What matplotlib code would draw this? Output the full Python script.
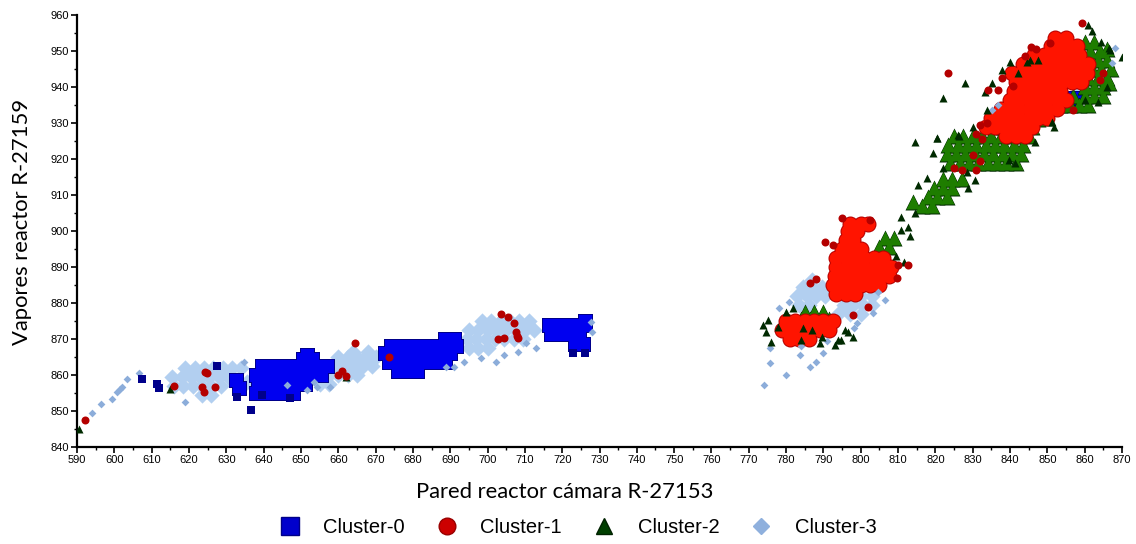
import matplotlib
matplotlib.use("Agg")
import matplotlib.pyplot as plt
from matplotlib.lines import Line2D
import numpy as np

# ---------------- data (x = Pared reactor, y = Vapores reactor) ----------------
cluster_names = ["Cluster-0", "Cluster-1", "Cluster-2", "Cluster-3"]
x_ticks = [590, 600, 610, 620, 630, 640, 650, 660, 670, 680, 690, 700, 710, 720, 730,
           740, 750, 760, 770, 780, 790, 800, 810, 820, 830, 840, 850, 860, 870]
y_ticks = [840, 850, 860, 870, 880, 890, 900, 910, 920, 930, 940, 950, 960]

# dense (overlapping) observations
c3_dense = [
    (623.5, 854.5), (626, 854.5),
    (616, 857), (618.5, 857), (621, 857), (623.5, 857), (626, 857), (628.5, 857),
    (615.5, 859.5), (618, 859.5), (620.5, 859.5), (623, 859.5), (625.5, 859.5), (628, 859.5), (630.5, 859.5),
    (619, 862), (621.5, 862), (624, 862), (626.5, 862), (629, 862), (631.5, 862), (634, 862), (635.5, 858),
    (655, 857.5), (657.5, 857.5),
    (657.5, 860), (660, 860), (662.5, 860), (665, 860),
    (659, 862.5), (661.5, 862.5), (664, 862.5), (666.5, 862.5), (669, 862.5),
    (660, 865), (662.5, 865), (665, 865), (667.5, 865), (670, 865),
    (664, 866.5), (668, 866.5),
    (695, 867.5), (697.5, 867.5), (700, 867.5),
    (694.5, 870), (697, 870), (699.5, 870), (702, 870), (704.5, 870), (707, 870), (709.5, 870),
    (695, 872.5), (697.5, 872.5), (700, 872.5), (702.5, 872.5), (705, 872.5), (707.5, 872.5), (710, 872.5), (712.5, 872.5),
    (698.5, 875), (701, 875), (703.5, 875), (706, 875), (708.5, 875), (711, 875),
    (794, 877), (797, 877), (800, 877),
    (783.5, 879.5), (786, 879.5), (795.5, 879.5), (798, 879.5), (800.5, 879.5), (803, 879.5),
    (783, 882), (785.5, 882), (788, 882), (790.5, 882), (800, 882), (803, 882),
    (784.5, 884.5), (787, 884.5), (789.5, 884.5), (787, 886.5),
    (858.5, 939.5), (860, 938.5),
]
c0_dense = [
    (638, 855), (640.5, 855), (643, 855), (645.5, 855), (648, 855),
    (638.5, 857.5), (641, 857.5), (643.5, 857.5), (646, 857.5), (648.5, 857.5), (651, 857.5),
    (638, 860), (640.5, 860), (643, 860), (645.5, 860), (648, 860), (650.5, 860), (653, 860), (655.5, 860),
    (639.5, 862.5), (642, 862.5), (644.5, 862.5), (647, 862.5), (649.5, 862.5), (652, 862.5), (654.5, 862.5), (657, 862.5),
    (650.5, 864.5), (653, 864.5), (651.5, 865.5),
    (632.5, 858.5), (633.5, 856.5),
    (676, 861), (678.5, 861), (681, 861),
    (673.5, 863.5), (676, 863.5), (678.5, 863.5), (681, 863.5), (683.5, 863.5), (686, 863.5), (688.5, 863.5),
    (672.5, 866), (675, 866), (677.5, 866), (680, 866), (682.5, 866), (685, 866), (687.5, 866), (690, 866),
    (674, 868), (676.5, 868), (679, 868), (681.5, 868), (684, 868), (686.5, 868), (689, 868), (691.5, 868),
    (688.5, 870), (691, 870),
    (717, 871.5), (719.5, 871.5), (722, 871.5), (724.5, 871.5),
    (716.5, 874), (719, 874), (721.5, 874), (724, 874), (726, 874),
    (723.5, 868.5), (725.5, 868.5), (726, 875),
    (857.5, 937),
]
c2_dense = [
    (784, 875.5), (786.5, 875.5), (789, 875.5), (791.5, 875.5), (785, 877.5), (787.5, 877.5), (790, 877.5),
    (805, 895.5), (807.5, 895.5), (806.5, 898), (809, 898),
    (814, 908), (816.5, 907), (819, 907), (818, 909.5), (820.5, 909.5), (823, 909.5),
    (819.5, 912), (822, 912), (824.5, 912), (822, 914.5), (824.5, 914.5), (827, 914.5),
    (824, 919), (826.5, 919), (829, 919), (831.5, 919), (834, 919), (836.5, 919), (839, 919), (841.5, 919),
    (823, 921.5), (825.5, 921.5), (828, 921.5), (830.5, 921.5), (833, 921.5), (835.5, 921.5), (838, 921.5), (840.5, 921.5), (843, 921.5),
    (823.5, 924), (826, 924), (828.5, 924), (831, 924), (833.5, 924), (836, 924), (838.5, 924), (841, 924), (843.5, 924),
    (825, 926.5), (827.5, 926.5), (830, 926.5), (832.5, 926.5), (835, 926.5), (837.5, 926.5), (840, 926.5), (842.5, 926.5), (845, 926.5),
    (836, 929), (838.5, 929), (841, 929), (843.5, 929), (846, 929),
    (840, 931), (842.5, 931), (845, 931), (847.5, 931), (850, 931.5),
    (853.5, 935), (856, 935), (858.5, 935), (861, 935),
    (857, 937.5), (860, 937.5), (862.5, 937.5), (865, 937.5),
    (860, 940), (862.5, 940), (865, 940), (866.5, 941),
    (861, 942.5), (863.5, 942.5), (866, 942.5),
    (862, 945), (864.5, 945), (867, 945),
    (861, 947.5), (863.5, 947.5), (866, 947.5),
    (859, 950), (861.5, 950), (864, 950), (866, 950.5),
    (860, 952.5), (862.5, 952.5),
]
c1_dense = [
    (781, 870), (783.5, 870), (786, 870),
    (779, 872.5), (781.5, 872.5), (784, 872.5), (786.5, 872.5), (789, 872.5), (791.5, 872.5),
    (780, 875), (782.5, 875), (785, 875), (787.5, 875), (790, 875), (792.5, 875),
    (793.5, 882.5), (796, 882.5), (798.5, 882.5),
    (792.5, 885), (795, 885), (797.5, 885), (800, 885), (802.5, 885), (805, 885),
    (793, 887.5), (795.5, 887.5), (798, 887.5), (800.5, 887.5), (803, 887.5), (805.5, 887.5), (807.5, 887.5),
    (793.5, 890), (796, 890), (798.5, 890), (801, 890), (803.5, 890), (806, 890), (808, 890),
    (793.5, 892.5), (796, 892.5), (798.5, 892.5), (801, 892.5), (803.5, 892.5), (806, 892.5),
    (795, 895), (797.5, 895), (800, 895),
    (796, 897.5), (798, 897.5), (796.5, 900), (799, 900), (797, 902), (800, 902), (802, 902),
    (839, 926.5), (841.5, 926.5), (844, 926.5),
    (833.5, 929), (836, 929), (838.5, 929), (841, 929), (843.5, 929), (846, 929),
    (835, 931.5), (837.5, 931.5), (840, 931.5), (842.5, 931.5), (845, 931.5), (847.5, 931.5), (850, 931.5),
    (837.5, 934), (840, 934), (842.5, 934), (845, 934), (847.5, 934), (850, 934), (852.5, 934),
    (840, 936.5), (842.5, 936.5), (845, 936.5), (847.5, 936.5), (850, 936.5), (852.5, 936.5), (855, 936.5),
    (841, 939), (843.5, 939), (846, 939), (848.5, 939), (851, 939), (853.5, 939),
    (841.5, 941.5), (844, 941.5), (846.5, 941.5), (849, 941.5), (851.5, 941.5), (854, 941.5), (856.5, 941.5), (859, 941.5),
    (840.5, 944), (843, 944), (845.5, 944), (848, 944), (850.5, 944), (853, 944), (855.5, 944), (858, 944), (860.5, 944),
    (843.5, 946.5), (846, 946.5), (848.5, 946.5), (851, 946.5), (853.5, 946.5), (856, 946.5), (858.5, 946.5), (861, 946.5),
    (846.5, 949), (849, 949), (851.5, 949), (854, 949), (856, 949), (858.5, 949),
    (851, 951.5), (853.5, 951.5), (856, 951.5), (858, 951.5),
    (852, 953.5), (855, 953.5),
]

# isolated observations
c3_single = [
    (593.9, 849.4), (596.4, 851.9), (599.3, 853.4), (600.7, 855.4), (602, 856.8), (603.5, 858.9),
    (606.5, 860.5), (601.5, 856), (619, 852.6), (634.7, 863.7), (646.3, 857.2), (654.3, 856.8),
    (657.9, 856.8), (651.7, 855.8), (653.4, 858.1), (688.8, 862.2), (690.9, 862.2), (693.6, 863.6),
    (698.2, 864.7), (702.2, 863.6), (704.4, 865.6), (708.1, 866.4), (710.3, 868.9), (713, 867.5),
    (727.7, 874.7), (728, 872),
    (774.2, 857.2), (780.1, 860), (775.6, 863.2), (786.3, 862.3), (783.6, 865.6), (788.1, 863.7),
    (789.9, 866), (775.6, 867.4), (780.9, 880.4), (798.3, 873), (798.9, 874.4), (803.3, 877.1),
    (806.4, 880.8), (804.7, 883.1), (784, 868), (791, 869.5), (778, 878.5),
    (868.2, 950.7), (867.3, 946.6), (836.9, 935), (835.3, 933.6),
]
c0_single = [
    (607.5, 858.8), (611.5, 857.6), (612, 856.3), (627.5, 862.5), (636.5, 850.3), (633, 854),
    (726, 866), (723, 866), (647, 853.5), (639.7, 854.4),
]
c1_single = [
    (592.1, 847.5), (616, 857), (624.4, 860.9), (624.8, 860.5), (623.5, 856.7), (623.9, 855.4),
    (627, 856.7), (660, 860), (662, 859.6), (661, 861), (664.6, 868.9), (673.5, 865),
    (703.5, 877), (705.5, 876), (707, 874.5), (707.5, 872), (708, 870.8), (704.4, 870.3),
    (708.1, 870.3), (702.8, 870),
    (786.3, 885.5), (787.9, 886.7), (810, 890.6), (812.7, 890.6), (809.6, 886.9), (802, 879),
    (798, 876.7), (790.5, 897), (792.5, 896), (795, 903.5), (802.5, 903),
    (859.3, 957.7), (845.7, 951), (837.8, 942.4), (836.9, 939.2), (834.2, 939.2), (850.8, 952.1),
    (840.7, 940.3), (823.5, 944), (832, 929.4), (833.8, 929.9), (865, 943.8), (864.2, 942),
    (825, 917.5), (827, 917), (831, 917), (831, 927), (832.4, 925.5), (857, 933.5), (830, 921),
    (832, 919.5), (844, 948.5), (847, 950.5),
]
c2_single = [
    (590.6, 844.9), (615, 856), (662, 859.4),
    (773.8, 873.9), (775.1, 875.3), (774.7, 872), (776, 869.3), (777.8, 873.2), (780.1, 877.6),
    (781.9, 878.5), (795.7, 872.5), (796.6, 872), (793.9, 869.7), (794.8, 869.7), (798, 870.6),
    (784.1, 869.7), (789, 868.8), (793, 868.3), (784.5, 873), (787, 872.5), (789.5, 870.5),
    (809.5, 893), (811.5, 891.5),
    (814.5, 924.8), (820.3, 925.7), (826.1, 926.7), (819.4, 921.7), (830.2, 929), (822.1, 917.4),
    (815.4, 912.8), (817.7, 914.6), (828.4, 916.5), (830.6, 914.2), (828.8, 911.9), (810.9, 904),
    (812.7, 901.2), (810.9, 900.3), (813.2, 898.6), (814.5, 904.9),
    (861, 957.2), (870, 948.4), (866.9, 950.3), (840, 947), (837.8, 944.7), (827.8, 941),
    (835.1, 941), (833.3, 938.7), (833.8, 933.6), (826.2, 926.4), (845.4, 947.5), (847.6, 947.5),
    (846.7, 924.8), (851.2, 930.4), (851.7, 929), (863.7, 935.9), (866, 940.1), (860.1, 936.4),
    (822.1, 937), (820.3, 925.9), (866.4, 950.7), (841.4, 918.8), (839.6, 919.7),
    (844.5, 947), (842, 944), (862, 955.5), (864.5, 952.5),
]

# ---------------- styles ----------------
styles = {
    "Cluster-0": dict(marker="s", face="#0000f0", dark="#00008b", outline=True, dense=c0_dense, single=c0_single, sz=13, ss=8),
    "Cluster-1": dict(marker="o", face="#ff1400", dark="#b40000", outline=True, dense=c1_dense, single=c1_single, sz=14, ss=8),
    "Cluster-2": dict(marker="^", face="#1e7d00", dark="#002a00", outline=True, dense=c2_dense, single=c2_single, sz=14, ss=8),
    "Cluster-3": dict(marker="D", face="#b2cff0", dark="#8cadda", outline=False, dense=c3_dense, single=c3_single, sz=11.5, ss=5.5),
}
draw_order = ["Cluster-3", "Cluster-0", "Cluster-2", "Cluster-1"]

plt.rcParams['font.family'] = ['Liberation Sans', 'DejaVu Sans']
fig = plt.figure(figsize=(11.36, 5.44), dpi=100)
ax = fig.add_axes([77 / 1136, 1 - 447 / 544, (1122 - 77) / 1136, (447 - 15) / 544])

z = 2
for name in draw_order:
    st = styles[name]
    d = np.array(st["dense"])
    if st["outline"]:
        ax.scatter(d[:, 0], d[:, 1], marker=st["marker"], s=((st["sz"] + 2) * 0.72) ** 2,
                   c=st["dark"], linewidths=0, zorder=z)
    ax.scatter(d[:, 0], d[:, 1], marker=st["marker"], s=(st["sz"] * 0.72) ** 2,
               c=st["face"], linewidths=0, zorder=z + 0.5)
    z += 1
for name in draw_order:
    st = styles[name]
    p = np.array(st["single"])
    ax.scatter(p[:, 0], p[:, 1], marker=st["marker"], s=(st["ss"] * 0.72) ** 2,
               c=st["dark"], linewidths=0, zorder=z)
    z += 0.1

ax.set_xlim(590, 870)
ax.set_ylim(840, 960)
ax.set_xticks(x_ticks)
ax.set_yticks(y_ticks)
ax.set_xticks(np.array(x_ticks[:-1]) + 5, minor=True)
ax.set_yticks(np.array(y_ticks[:-1]) + 5, minor=True)
for s in ["top", "right"]:
    ax.spines[s].set_visible(False)
for s in ["left", "bottom"]:
    ax.spines[s].set_linewidth(1.6)
ax.tick_params(which="major", length=4, width=1.2, labelsize=8, pad=2)
ax.tick_params(which="minor", length=2.5, width=1.0)

fig.text(22 / 1136, 1 - 222 / 544, "Vapores reactor R-27159", rotation=90,
         ha="center", va="center", fontsize=15.8, family=["Lato", "DejaVu Sans"])
fig.text(565 / 1136, 1 - 492 / 544, "Pared reactor cámara R-27153",
         ha="center", va="center", fontsize=15.8, family=["Lato", "DejaVu Sans"])

legend_style = {
    "Cluster-0": dict(marker="s", color="#0000cc", mec="#000088", ms=13),
    "Cluster-1": dict(marker="o", color="#cc0000", mec="#990000", ms=12),
    "Cluster-2": dict(marker="^", color="#003f00", mec="#002200", ms=12),
    "Cluster-3": dict(marker="D", color="#8fb0dd", mec="#8fb0dd", ms=8.5),
}
handles = [Line2D([], [], linestyle="none", marker=legend_style[n]["marker"],
                  markerfacecolor=legend_style[n]["color"], markeredgecolor=legend_style[n]["mec"],
                  markersize=legend_style[n]["ms"], label=n) for n in cluster_names]
fig.legend(handles=handles, loc="center", bbox_to_anchor=(0.509, 0.031), ncol=4,
           frameon=False, fontsize=14.5, handlelength=1.0, handletextpad=1.15,
           columnspacing=1.6, borderpad=0)

fig.savefig("out.png", dpi=100)
